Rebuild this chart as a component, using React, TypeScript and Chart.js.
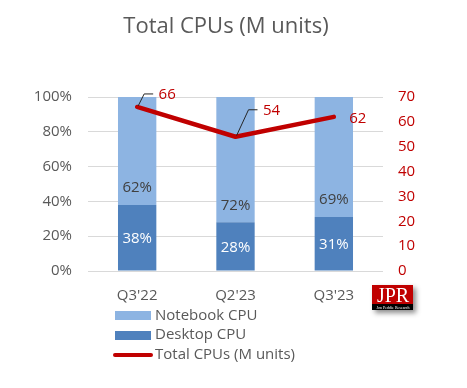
import React, { useEffect, useRef } from "react";
import { Chart, registerables } from "chart.js";

Chart.register(...registerables);

const categories = ["Q3'22", "Q2'23", "Q3'23"];
const desktopShare = [38, 28, 31];
const notebookShare = [62, 72, 69];
const totalUnits = [66, 54, 62];
const titleText = "Total CPUs (M units)";
const legendLabels = ["Notebook CPU", "Desktop CPU", "Total CPUs (M units)"];

const FONT = "'Open Sans', 'Liberation Sans', sans-serif";
const GRAY = "#595959";
const RED = "#C00000";
const LIGHT = "#8DB4E2";
const DARK = "#4F81BD";

const overlay = {
  id: "overlay",
  afterDatasetsDraw(chart: any) {
    const ctx = chart.ctx;
    ctx.save();
    ctx.font = `15px ${FONT}`;
    ctx.textAlign = "center";
    ctx.textBaseline = "middle";
    const m0 = chart.getDatasetMeta(0);
    m0.data.forEach((el: any, i: number) => {
      ctx.fillStyle = "#FFFFFF";
      ctx.fillText(desktopShare[i] + "%", el.x, (el.y + el.base) / 2 + 1);
    });
    const m1 = chart.getDatasetMeta(1);
    m1.data.forEach((el: any, i: number) => {
      ctx.fillStyle = "#404040";
      ctx.fillText(notebookShare[i] + "%", el.x, el.base - 17);
    });
    const m2 = chart.getDatasetMeta(2);
    const leaders = [
      { lead: true, dx1: 7, dy1: -13, dx2: 16, lx: 30, ly: -12 },
      { lead: true, dx1: 13, dy1: -27, dx2: 22, lx: 36, ly: -26 },
      { lead: false, dx1: 0, dy1: 0, dx2: 0, lx: 24, ly: 2 },
    ];
    m2.data.forEach((el: any, i: number) => {
      const L = leaders[i];
      if (L.lead) {
        ctx.strokeStyle = "#262626";
        ctx.lineWidth = 1;
        ctx.beginPath();
        ctx.moveTo(el.x + 1, el.y - 1);
        ctx.lineTo(el.x + L.dx1, el.y + L.dy1);
        ctx.lineTo(el.x + L.dx2, el.y + L.dy1);
        ctx.stroke();
      }
      ctx.fillStyle = RED;
      ctx.fillText(String(totalUnits[i]), el.x + L.lx, el.y + L.ly);
    });
    ctx.restore();
  },
  afterDraw(chart: any) {
    const ctx = chart.ctx;
    ctx.save();
    ctx.fillStyle = GRAY;
    ctx.font = `22px ${FONT}`;
    ctx.textAlign = "center";
    ctx.textBaseline = "middle";
    ctx.fillText(titleText, 226, 27);
    ctx.font = `15px ${FONT}`;
    ctx.textAlign = "left";
    ctx.fillStyle = LIGHT;
    ctx.fillRect(115, 311, 36, 9);
    ctx.fillStyle = DARK;
    ctx.fillRect(115, 331, 36, 9);
    ctx.strokeStyle = RED;
    ctx.lineWidth = 4;
    ctx.lineCap = "round";
    ctx.beginPath();
    ctx.moveTo(115, 355);
    ctx.lineTo(151, 355);
    ctx.stroke();
    ctx.fillStyle = GRAY;
    ctx.fillText(legendLabels[0], 155, 316);
    ctx.fillText(legendLabels[1], 155, 335);
    ctx.fillText(legendLabels[2], 155, 355);
    // logo
    ctx.save();
    ctx.shadowColor = "rgba(0,0,0,0.45)";
    ctx.shadowBlur = 5;
    ctx.shadowOffsetX = 3;
    ctx.shadowOffsetY = 3;
    ctx.fillStyle = RED;
    ctx.fillRect(372, 285, 41, 25);
    ctx.restore();
    ctx.fillStyle = "#000000";
    ctx.fillRect(372, 304, 41, 6);
    ctx.fillStyle = "#FFFFFF";
    ctx.font = "20px 'Liberation Serif', serif";
    ctx.textAlign = "center";
    ctx.textBaseline = "alphabetic";
    ctx.fillText("JPR", 393, 302);
    ctx.font = "4px 'Liberation Serif', serif";
    ctx.fillText("Jon Peddie Research", 393, 308.5);
    ctx.restore();
  },
};

export default function App() {
  const ref = useRef<HTMLCanvasElement>(null);
  useEffect(() => {
    if (!ref.current) return;
    const chart = new Chart(ref.current, {
      data: {
        labels: categories,
        datasets: [
          {
            type: "bar",
            label: "Desktop CPU",
            data: desktopShare,
            backgroundColor: DARK,
            yAxisID: "y",
            order: 1,
            barPercentage: 0.39,
            categoryPercentage: 1,
          },
          {
            type: "bar",
            label: "Notebook CPU",
            data: notebookShare,
            backgroundColor: LIGHT,
            yAxisID: "y",
            order: 1,
            barPercentage: 0.39,
            categoryPercentage: 1,
          },
          {
            type: "line",
            label: "Total CPUs (M units)",
            data: totalUnits,
            borderColor: RED,
            borderWidth: 4.5,
            pointRadius: 0,
            borderCapStyle: "round",
            borderJoinStyle: "round",
            yAxisID: "y1",
            order: 0,
          },
        ],
      } as any,
      options: {
        animation: false,
        responsive: true,
        maintainAspectRatio: false,
        layout: { padding: { top: 97, left: 0, right: 0, bottom: 77 } },
        plugins: {
          legend: { display: false },
          title: { display: false },
          tooltip: { enabled: false },
        },
        scales: {
          x: {
            stacked: true,
            grid: { display: false },
            border: { display: false },
            ticks: { color: GRAY, font: { family: FONT, size: 15 }, padding: 8 },
            afterFit: (s: any) => {
              s.height = 40;
            },
          },
          y: {
            stacked: true,
            position: "left",
            min: 0,
            max: 100,
            ticks: {
              stepSize: 20,
              color: GRAY,
              font: { family: FONT, size: 15 },
              padding: 16,
              callback: (v: any) => v + "%",
            },
            grid: { color: "#D9D9D9", lineWidth: 1, drawTicks: false },
            border: { display: false },
            afterFit: (s: any) => {
              s.width = 88;
            },
          },
          y1: {
            position: "right",
            min: 0,
            max: 70,
            ticks: {
              stepSize: 10,
              color: RED,
              font: { family: FONT, size: 15 },
              padding: 15,
            },
            grid: { display: false, drawTicks: false },
            border: { display: false },
            afterFit: (s: any) => {
              s.width = 84;
            },
          },
        },
      },
      plugins: [overlay],
    } as any);
    return () => chart.destroy();
  }, []);
  return (
    <div style={{ position: "fixed", left: 0, top: 0, width: 467, height: 388, background: "#fff" }}>
      <canvas ref={ref} />
    </div>
  );
}
